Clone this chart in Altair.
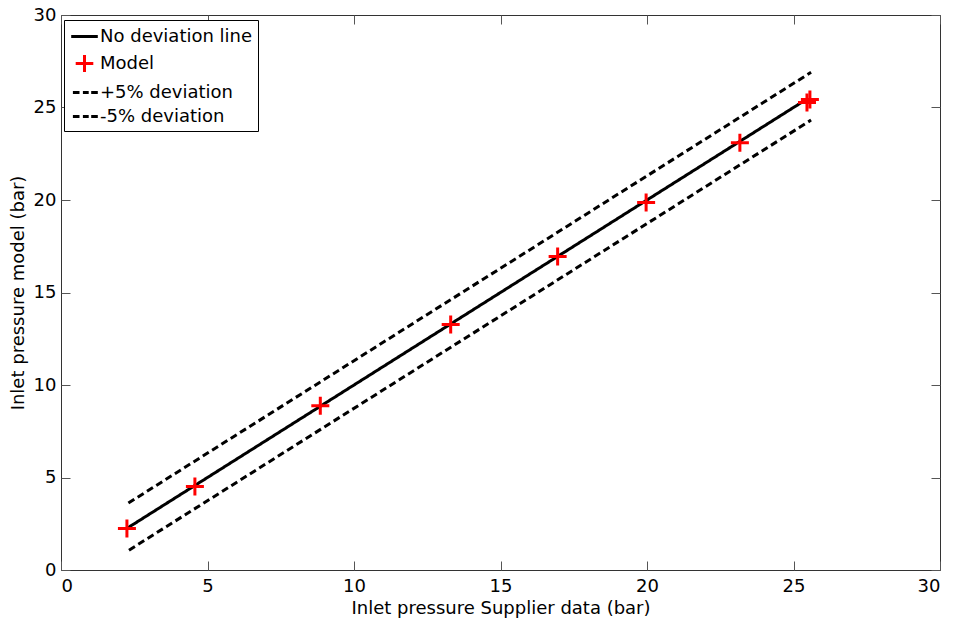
import altair as alt
import pandas as pd

FONT = "DejaVu Sans"

# No deviation line
ideal_x = [2.3, 25.5]
ideal_y = [2.3, 25.5]
# +5% deviation
up_x = [2.3, 25.6]
up_y = [3.62, 26.9]
# -5% deviation
low_x = [2.32, 25.6]
low_y = [1.07, 24.32]
# Model points
model_x = [2.25, 4.57, 8.85, 13.3, 16.95, 19.97, 23.17, 25.46, 25.56]
model_y = [2.24, 4.52, 8.88, 13.27, 16.95, 19.86, 23.1, 25.27, 25.43]

series = ["No deviation line", "Model", "+5% deviation", "-5% deviation"]
tick_values = [0, 5, 10, 15, 20, 25, 30]

lines_df = pd.concat([
    pd.DataFrame({"x": ideal_x, "y": ideal_y, "series": series[0]}),
    pd.DataFrame({"x": up_x, "y": up_y, "series": series[2]}),
    pd.DataFrame({"x": low_x, "y": low_y, "series": series[3]}),
])
model_df = pd.DataFrame({"x": model_x, "y": model_y})
legend_df = pd.DataFrame({"x": [model_x[0]] * 4, "y": [model_y[0]] * 4, "series": series})

xs = alt.Scale(domain=[0, 30], nice=False, zero=False)
ys = alt.Scale(domain=[0, 30], nice=False, zero=False)

common_axis = dict(
    values=tick_values, domain=False, offset=-9, tickSize=9, tickColor="#555555",
    tickWidth=1, labelFontSize=18, labelColor="black", labelFont=FONT,
    titleFont=FONT, titleFontSize=18, titleFontWeight="normal", titleColor="black",
    grid=False,
)

xaxis = alt.Axis(title="Inlet pressure Supplier data (bar)", labelPadding=7,
                 titlePadding=4, **common_axis)
yaxis = alt.Axis(title="Inlet pressure model (bar)", labelPadding=5,
                 titlePadding=6, **common_axis)
top_axis = alt.Axis(orient="top", labels=False, title=None, values=tick_values,
                    domain=False, offset=-9, tickSize=9, tickColor="#555555",
                    tickWidth=1, grid=False)
right_axis = alt.Axis(orient="right", labels=False, title=None, values=tick_values,
                      domain=False, offset=-9, tickSize=9, tickColor="#555555",
                      tickWidth=1, grid=False)

PLUS = "M-1,0H1M0,-1V1"

lines = alt.Chart(lines_df).mark_line(color="black", strokeWidth=3).encode(
    x=alt.X("x:Q", scale=xs, axis=xaxis),
    y=alt.Y("y:Q", scale=ys, axis=yaxis),
    detail="series:N",
    strokeDash=alt.StrokeDash(
        "series:N",
        scale=alt.Scale(domain=[series[0], series[2], series[3]],
                        range=[[1, 0], [7, 4], [7, 4]]),
        legend=None,
    ),
)

points = alt.Chart(model_df).mark_point(
    shape=PLUS, filled=False, color="red", strokeWidth=3, size=324, opacity=1
).encode(
    x=alt.X("x:Q", scale=xs, axis=None),
    y=alt.Y("y:Q", scale=ys, axis=None),
)

leg = alt.Legend(
    title=None, orient="none", legendX=3, legendY=5,
    fillColor="white", strokeColor="black", cornerRadius=0,
    padding=5, rowPadding=3, symbolSize=400, symbolStrokeWidth=3,
    symbolOpacity=1, symbolOffset=4, labelOffset=4, labelFontSize=18,
    labelFont=FONT, labelColor="black", labelLimit=400,
)

legend_layer = alt.Chart(legend_df).mark_point(opacity=0, filled=False).encode(
    x=alt.X("x:Q", scale=xs, axis=None),
    y=alt.Y("y:Q", scale=ys, axis=None),
    color=alt.Color("series:N", sort=series,
                    scale=alt.Scale(domain=series, range=["black", "red", "black", "black"]),
                    legend=leg),
    shape=alt.Shape("series:N", sort=series,
                    scale=alt.Scale(domain=series, range=[
                        "M-1.33,0H1.33",
                        "M-0.88,0H0.88M0,-0.85V0.85",
                        "M-1.16,0H-0.5M-0.16,0H0.42M0.67,0H1.33",
                        "M-1.16,0H-0.5M-0.16,0H0.42M0.67,0H1.33",
                    ]),
                    legend=leg),
)

frame_axes = alt.Chart(lines_df).mark_point(opacity=0).encode(
    x=alt.X("x:Q", scale=xs, axis=top_axis),
    y=alt.Y("y:Q", scale=ys, axis=right_axis),
)

chart = alt.layer(lines, points, legend_layer, frame_axes).resolve_axis(
    x="independent", y="independent"
).properties(
    width=879, height=555,
    autosize=alt.AutoSizeParams(type="none"),
    padding={"left": 53, "top": 7, "right": 10, "bottom": 50},
    background="white",
).configure_view(stroke="#333333", strokeWidth=1)

chart.save("out.html", embed_options={"renderer": "svg", "actions": False})
